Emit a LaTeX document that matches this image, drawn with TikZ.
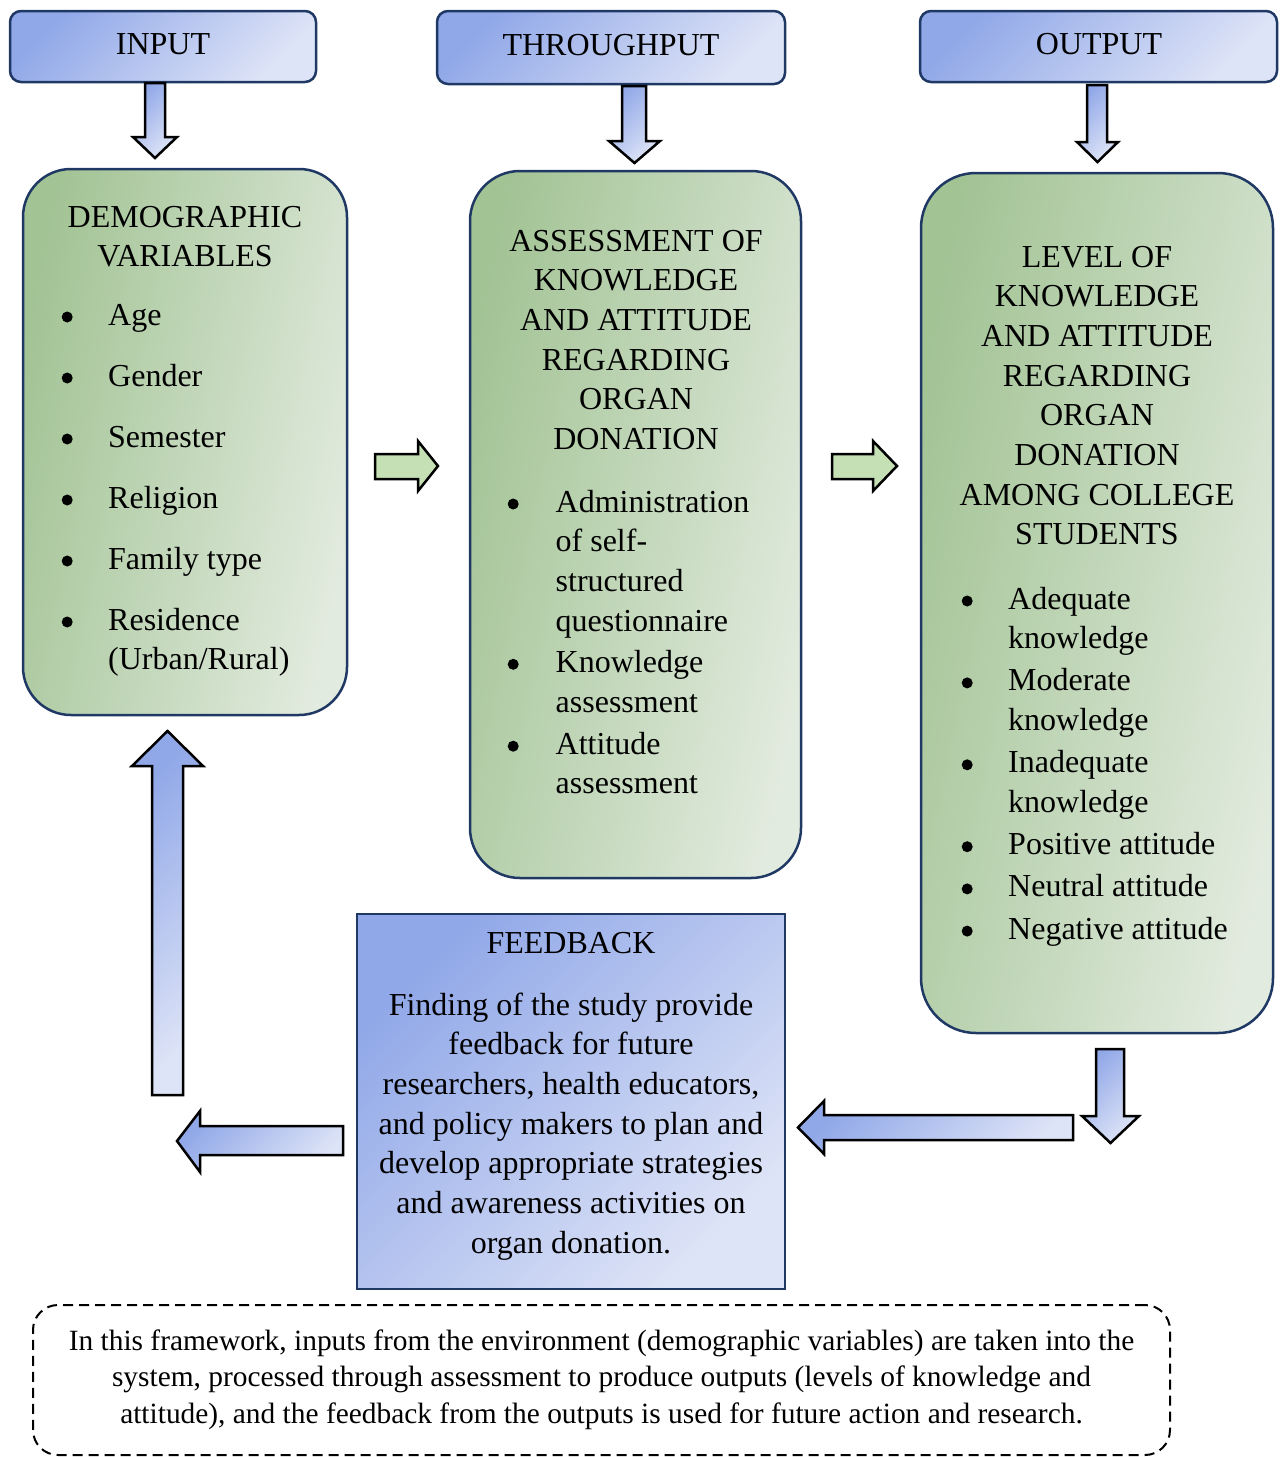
\documentclass[tikz,border=0pt]{standalone}
\usepackage{fontspec}
\setmainfont{Liberation Serif}
\definecolor{navy}{HTML}{1F3864}
\definecolor{bdark}{HTML}{91A8E8}
\definecolor{blight}{HTML}{DEE4F7}
\definecolor{gdark}{HTML}{A2C394}
\definecolor{glight}{HTML}{E2EBDF}
\definecolor{garrowc}{HTML}{C5E0B4}
\newcommand\ctab[1]{\begin{tabular}[t]{@{}c@{}}#1\end{tabular}}
\newcommand\bul{\tikz[baseline=-8pt]\fill[black] (5.5pt,0pt) circle (5.5pt);}
\begin{document}
\begin{tikzpicture}[x=1pt,y=-1pt,
  bbox/.style={draw=navy, line width=2.5pt, inner sep=0pt, top color=bdark, bottom color=blight, shading angle=45},
  hbox/.style={bbox, rounded corners=11pt},
  gbox/.style={draw=navy, line width=2.5pt, inner sep=0pt, rounded corners=50pt, top color=gdark, bottom color=glight, shading angle=78},
  barrow/.style={draw=black, line width=2.5pt, line join=miter, top color=bdark, bottom color=blight, shading angle=45},
  grarrow/.style={draw=black, line width=2.5pt, line join=miter, fill=garrowc},
  txt/.style={inner sep=0pt, anchor=base, font=\fontsize{32}{39.7}\selectfont},
  lst/.style={inner sep=0pt, anchor=base west, font=\fontsize{32}{39.7}\selectfont},
  notebox/.style={draw=black, line width=2pt, dash pattern=on 10pt off 6pt, rounded corners=25pt, inner sep=0pt},
]
\useasboundingbox (0,0) rectangle (1284,1457);

% header boxes
\node[hbox, minimum width=306pt, minimum height=71pt] (input) at (163,46.5) {};
\node[hbox, minimum width=348pt, minimum height=73pt] (through) at (611,47.5) {};
\node[hbox, minimum width=357pt, minimum height=71pt] (output) at (1098.5,46.5) {};
\node[txt] (tinput) at (163,54) {INPUT};
\node[txt] (tthrough) at (611,55) {THROUGHPUT};
\node[txt] (toutput) at (1099,54) {OUTPUT};

% big green boxes
\node[gbox, rounded corners=48pt, minimum width=324pt, minimum height=546pt] (demo) at (185,442) {};
\node[gbox, minimum width=331pt, minimum height=707pt] (assess) at (635.5,524.5) {};
\node[gbox, rounded corners=55pt, minimum width=352pt, minimum height=860pt] (level) at (1097,603) {};

% feedback box
\node[bbox, minimum width=428pt, minimum height=375pt] (feedback) at (571,1101.5) {};

% note box
\node[notebox, minimum width=1137pt, minimum height=150pt] (note) at (601.5,1380) {};

% titles
\node[txt] (tdemo) at (185,227) {\ctab{DEMOGRAPHIC\\VARIABLES}};
\node[txt] (tassess) at (636,251) {\ctab{ASSESSMENT OF\\KNOWLEDGE\\AND ATTITUDE\\REGARDING\\ORGAN\\DONATION}};
\node[txt] (tlevel) at (1097,267) {\ctab{LEVEL OF\\KNOWLEDGE\\AND ATTITUDE\\REGARDING\\ORGAN\\DONATION\\AMONG COLLEGE\\STUDENTS}};

% lists
\node[lst] (ldemo) at (61.5,325) {\begin{tabular}[t]{@{}p{46.5pt}@{}l@{}}
\bul & Age\\[21.3pt]
\bul & Gender\\[21.3pt]
\bul & Semester\\[21.3pt]
\bul & Religion\\[21.3pt]
\bul & Family type\\[21.3pt]
\bul & Residence\\
  & (Urban/Rural)
\end{tabular}};
\node[lst] (lassess) at (507.5,512) {\begin{tabular}[t]{@{}p{48pt}@{}l@{}}
\bul & Administration\\
  & of self-\\
  & structured\\
  & questionnaire\\[1.5pt]
\bul & Knowledge\\
  & assessment\\[2.5pt]
\bul & Attitude\\
  & assessment
\end{tabular}};
\node[lst] (llevel) at (961.5,609) {\begin{tabular}[t]{@{}p{46.5pt}@{}l@{}}
\bul & Adequate\\
  & knowledge\\[2.5pt]
\bul & Moderate\\
  & knowledge\\[2.5pt]
\bul & Inadequate\\
  & knowledge\\[2.5pt]
\bul & Positive attitude\\[2.5pt]
\bul & Neutral attitude\\[2.5pt]
\bul & Negative attitude
\end{tabular}};

% feedback text
\node[txt] (tfeed) at (571,953) {FEEDBACK};
\node[txt] (tfeedbody) at (571,1015) {\ctab{Finding of the study provide\\feedback for future\\researchers, health educators,\\and policy makers to plan and\\develop appropriate strategies\\and awareness activities on\\organ donation.}};

% note text
\node[txt, font=\fontsize{29.4}{36.5}\selectfont] (tnote) at (601.5,1350) {\ctab{In this framework, inputs from the environment (demographic variables) are taken into the\\system, processed through assessment to produce outputs (levels of knowledge and\\attitude), and the feedback from the outputs is used for future action and research.}};

% block arrows
\draw[barrow] (145,83) -- (165,83) -- (165,137) -- (177,137) -- (155,158) -- (133,137) -- (145,137) -- cycle;
\draw[barrow] (622,86) -- (646,86) -- (646,141) -- (660,141) -- (634.5,163) -- (609,141) -- (622,141) -- cycle;
\draw[barrow] (1087,85) -- (1107,85) -- (1107,142) -- (1118,142) -- (1097.5,162) -- (1077,142) -- (1087,142) -- cycle;
\draw[grarrow] (375,454) -- (418,454) -- (418,441) -- (438,466) -- (418,491) -- (418,479) -- (375,479) -- cycle;
\draw[grarrow] (832,454) -- (873,454) -- (873,441) -- (897,466) -- (873,491) -- (873,479) -- (832,479) -- cycle;
\draw[barrow] (1096,1049) -- (1124,1049) -- (1124,1116) -- (1139,1116) -- (1110.5,1143) -- (1082,1116) -- (1096,1116) -- cycle;
\draw[barrow] (1073,1115) -- (824,1115) -- (824,1101) -- (798,1127.5) -- (824,1154) -- (824,1140) -- (1073,1140) -- cycle;
\draw[barrow] (343,1126) -- (200,1126) -- (200,1111) -- (177,1141) -- (200,1172) -- (200,1155) -- (343,1155) -- cycle;
\draw[barrow] (152,1095) -- (152,766) -- (132,766) -- (167.5,731) -- (203,766) -- (183,766) -- (183,1095) -- cycle;
\end{tikzpicture}
\end{document}
